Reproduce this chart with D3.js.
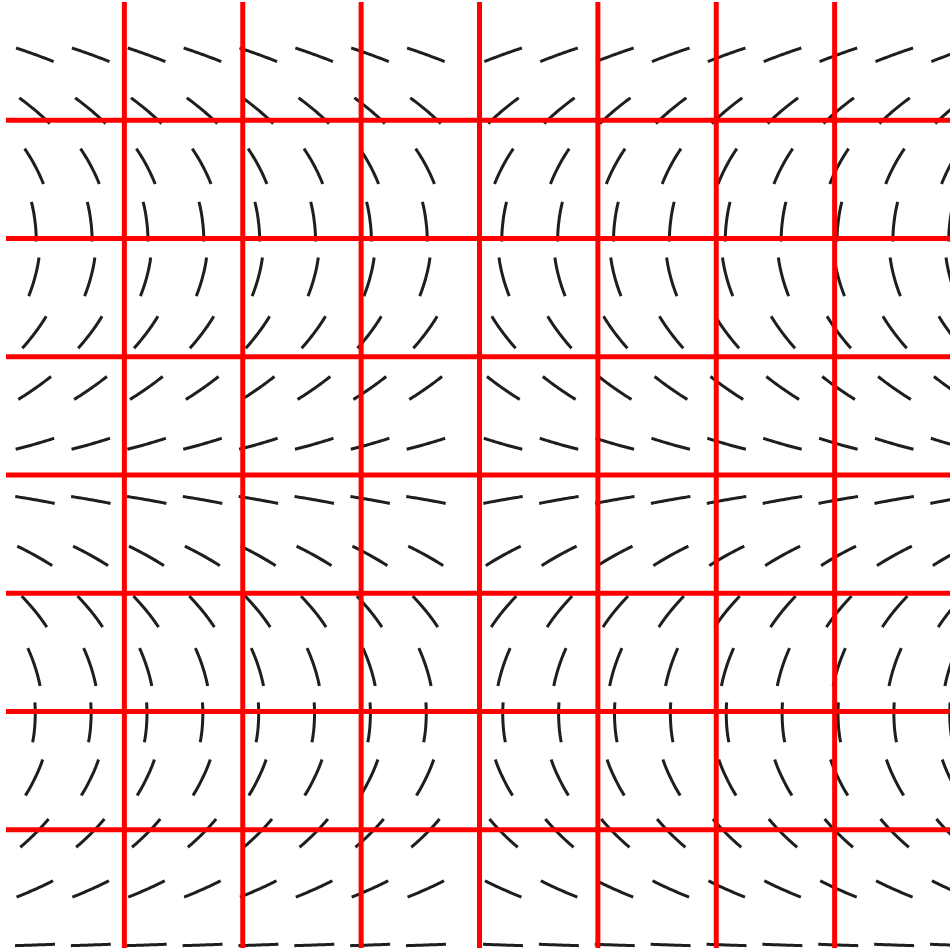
<!DOCTYPE html>
<html>
<head>
<meta charset="utf-8">
<script src="https://cdn.jsdelivr.net/npm/d3@7"></script>
<style>
  html, body { margin: 0; padding: 0; background: #fff; }
  svg { display: block; }
</style>
</head>
<body>
<svg id="chart" width="950" height="950"></svg>
<script>
// orientation of the segments in each row (left half, degrees, unwrapped; right half is mirrored)
const rowAngles = [20, 40, 62, 83, 105, 127, 145, 164, 190, 209, 231, 252, 273, 296, 315, 336, 358];
const rowIndex = d3.range(rowAngles.length);
const leftColumns = [0, 1, 2, 3, 4, 5, 6, 7];
const rightColumns = [0, 1, 2, 3, 4, 5, 6, 7, 8];
const gridTicks = [1, 2, 3, 4, 5, 6, 7];

const width = 950;
const height = 950;
const segLength = 40;

const rowY = d3.scaleLinear().domain([0, 16]).range([54.5, 945]);
const leftX = d3.scaleLinear().domain([0, 7]).range([35, 426]);
const rightX = d3.scaleLinear().domain([0, 8]).range([503, 950]);
const angleAt = d3.scaleLinear().domain(rowIndex.map((i) => rowY(i))).range(rowAngles);

const gridX = d3.scaleLinear().domain([0, 8]).range([6, 953]);
const gridY = d3.scaleLinear().domain([0, 8]).range([2, 948]);

// follow the field a little both ways from the center, so segments bend like the original
function trace(cx, cy, sign) {
  const steps = 10;
  const ds = segLength / 2 / steps;
  const fwd = [];
  const back = [];
  let x = cx, y = cy;
  for (let s = 0; s < steps; s += 1) {
    const a = angleAt(y) * Math.PI / 180;
    x += sign * Math.cos(a) * ds;
    y += Math.sin(a) * ds;
    fwd.push([x, y]);
  }
  x = cx; y = cy;
  for (let s = 0; s < steps; s += 1) {
    const a = angleAt(y) * Math.PI / 180;
    x -= sign * Math.cos(a) * ds;
    y -= Math.sin(a) * ds;
    back.push([x, y]);
  }
  return back.reverse().concat([[cx, cy]], fwd);
}

const segments = [];
rowIndex.forEach((r) => {
  leftColumns.forEach((c) => segments.push({ x: leftX(c), y: rowY(r), sign: 1 }));
  rightColumns.forEach((c) => segments.push({ x: rightX(c), y: rowY(r), sign: -1 }));
});

const svg = d3.select("#chart").attr("viewBox", `0 0 ${width} ${height}`);
svg.append("rect").attr("width", width).attr("height", height).attr("fill", "#fff");

const line = d3.line();

svg.append("g")
  .attr("class", "segments")
  .selectAll("path")
  .data(segments)
  .enter()
  .append("path")
  .attr("d", (d) => line(trace(d.x, d.y, d.sign)))
  .attr("fill", "none")
  .attr("stroke", "#1e1e1e")
  .attr("stroke-width", 3);

const grid = svg.append("g").attr("class", "grid");

grid.selectAll("line.v")
  .data(gridTicks)
  .enter()
  .append("line")
  .attr("class", "v")
  .attr("x1", (d) => gridX(d))
  .attr("x2", (d) => gridX(d))
  .attr("y1", gridY(0))
  .attr("y2", gridY(8))
  .attr("stroke", "#ff0000")
  .attr("stroke-width", 5);

grid.selectAll("line.h")
  .data(gridTicks)
  .enter()
  .append("line")
  .attr("class", "h")
  .attr("x1", gridX(0))
  .attr("x2", gridX(8))
  .attr("y1", (d) => gridY(d))
  .attr("y2", (d) => gridY(d))
  .attr("stroke", "#ff0000")
  .attr("stroke-width", 5);
</script>
</body>
</html>
